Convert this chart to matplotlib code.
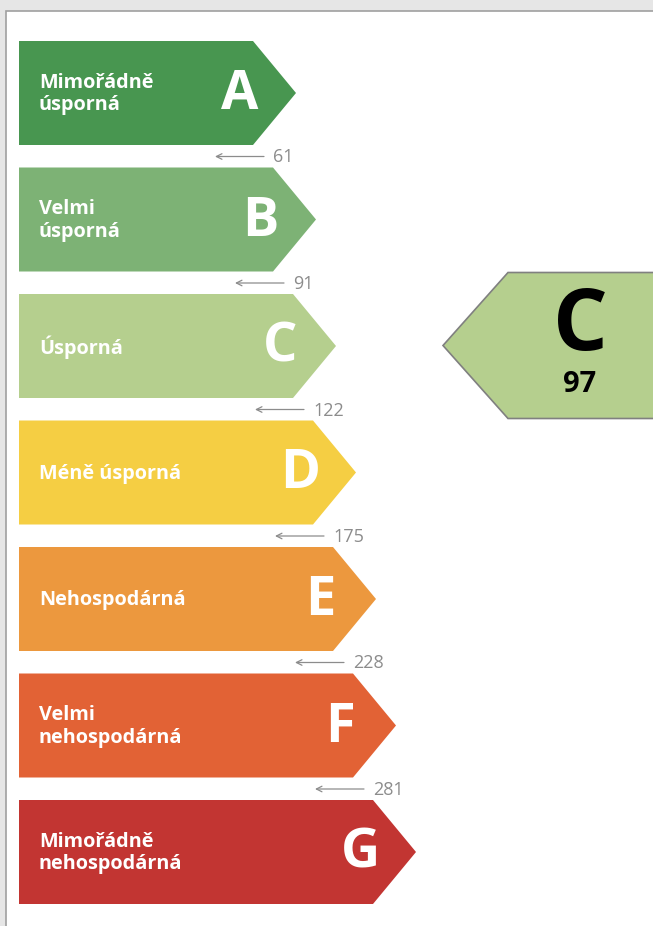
import matplotlib.pyplot as plt
from matplotlib.patches import Polygon, Rectangle

# data
letters = ['A', 'B', 'C', 'D', 'E', 'F', 'G']
labels = ['Mimořádně\núsporná', 'Velmi\núsporná', 'Úsporná', 'Méně úsporná',
          'Nehospodárná', 'Velmi\nnehospodárná', 'Mimořádně\nnehospodárná']
limits = [61, 91, 122, 175, 228, 281]
colors = ['#489650', '#7db275', '#b5cf8e', '#f5ce43', '#ec983e', '#e26235', '#c23532']
rating = 'C'
value = 97

fig = plt.figure(figsize=(6.53, 9.26), dpi=100)
fig.patch.set_facecolor('#e6e6e6')
ax = fig.add_axes([0, 0, 1, 1])
ax.set_xlim(0, 653)
ax.set_ylim(926, 0)
ax.axis('off')

# white page with a thin border
ax.add_patch(Rectangle((6, 11), 700, 1000, facecolor='white', edgecolor='#a0a0a0', lw=1.2))

font = 'Open Sans'
x0 = 19
top0 = 41
step = 126.5
h = 104
body0 = 253
dx = 20
tip = 43

for i, (let, lab, col) in enumerate(zip(letters, labels, colors)):
    top = top0 + i * step
    body = body0 + i * dx
    pts = [(x0, top), (body, top), (body + tip, top + h / 2), (body, top + h), (x0, top + h)]
    ax.add_patch(Polygon(pts, closed=True, facecolor=col, edgecolor='none'))
    ax.text(39, top + h / 2 + 1, lab, color='white', fontsize=14.3, fontweight='bold',
            family=font, va='center', ha='left', linespacing=1.15)
    ax.text(body - 13, top + h / 2 + 2, let, color='white', fontsize=39, fontweight='bold',
            family=font, va='center', ha='center')

# limits between classes
for i, lim in enumerate(limits):
    y = top0 + i * step + h + 11.5
    xs = body0 - 38 + i * dx
    ax.annotate('', xy=(xs, y), xytext=(xs + 49, y),
                arrowprops=dict(arrowstyle='->', color='#8c8c8c', lw=0.9,
                                shrinkA=0, shrinkB=0, mutation_scale=10))
    ax.text(xs + 58, y + 1, str(lim), color='#8c8c8c', fontsize=13,
            family=font, va='center', ha='left')

# current rating
k = letters.index(rating)
ypos = top0 + 2 * step + h / 2 - 0.5
ind = [(443, ypos), (508, ypos - 73), (700, ypos - 73), (700, ypos + 73), (508, ypos + 73)]
ax.add_patch(Polygon(ind, closed=True, facecolor=colors[k], edgecolor='#808080', lw=1.2))
ax.text(580, ypos - 18, rating, color='black', fontsize=62, fontweight='bold',
        family=font, va='center', ha='center')
ax.text(580, ypos + 39, str(value), color='black', fontsize=21, fontweight='bold',
        family=font, va='center', ha='center')

fig.savefig('out.png', dpi=100, facecolor=fig.get_facecolor())
